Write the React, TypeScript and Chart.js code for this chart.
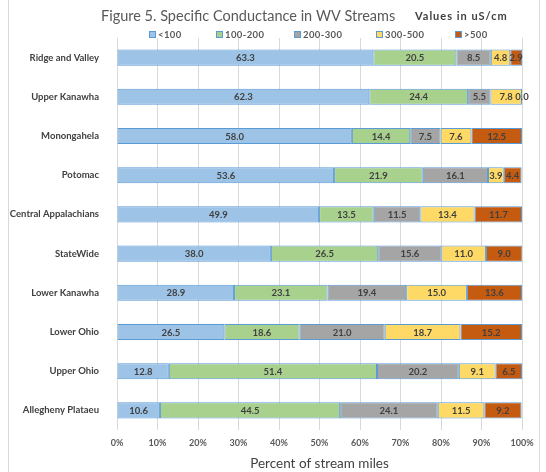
import React, { useEffect, useRef } from "react";
import { Chart, registerables } from "chart.js";

Chart.register(...registerables);

const categories = [
  "Ridge and Valley",
  "Upper Kanawha",
  "Monongahela",
  "Potomac",
  "Central Appalachians",
  "StateWide",
  "Lower Kanawha",
  "Lower Ohio",
  "Upper Ohio",
  "Allegheny Plataeu",
];

const seriesNames = ["<100", "100-200", "200-300", "300-500", ">500"];

const lt100 = [63.3, 62.3, 58.0, 53.6, 49.9, 38.0, 28.9, 26.5, 12.8, 10.6];
const s100to200 = [20.5, 24.4, 14.4, 21.9, 13.5, 26.5, 23.1, 18.6, 51.4, 44.5];
const s200to300 = [8.5, 5.5, 7.5, 16.1, 11.5, 15.6, 19.4, 21.0, 20.2, 24.1];
const s300to500 = [4.8, 7.8, 7.6, 3.9, 13.4, 11.0, 15.0, 18.7, 9.1, 11.5];
const gt500 = [2.9, 0.0, 12.5, 4.4, 11.7, 9.0, 13.6, 15.2, 6.5, 9.2];

const xTicks = [0, 10, 20, 30, 40, 50, 60, 70, 80, 90, 100];

const colors = ["#9DC3E6", "#A9D18E", "#A5A5A5", "#FFD966", "#C55A11"];
const FONT = "Lato, 'Open Sans', sans-serif";

const decorPlugin = {
  id: "decor",
  beforeDraw(chart: any) {
    const ctx = chart.ctx;
    ctx.save();
    ctx.fillStyle = "#ffffff";
    ctx.fillRect(0, 0, chart.width, chart.height);
    ctx.strokeStyle = "#D9D9D9";
    ctx.lineWidth = 1;
    ctx.beginPath();
    ctx.moveTo(8.5, 0);
    ctx.lineTo(8.5, chart.height);
    ctx.moveTo(539.5, 0);
    ctx.lineTo(539.5, chart.height);
    ctx.stroke();
    ctx.restore();
  },
  afterDraw(chart: any) {
    const ctx = chart.ctx;
    ctx.save();
    ctx.textBaseline = "alphabetic";
    // title
    ctx.fillStyle = "#595959";
    ctx.font = `14.5px ${FONT}`;
    ctx.textAlign = "left";
    ctx.fillText("Figure 5. Specific Conductance in WV Streams", 101, 21);
    ctx.fillStyle = "#404040";
    ctx.font = `bold 11px ${FONT}`;
    (ctx as any).letterSpacing = "1px";
    ctx.fillText("Values in uS/cm", 415, 20);
    (ctx as any).letterSpacing = "0px";
    // legend
    const boxX = [149, 216, 294, 376, 455];
    ctx.font = `bold 9.5px ${FONT}`;
    ctx.textBaseline = "middle";
    seriesNames.forEach((name, i) => {
      ctx.fillStyle = colors[i];
      ctx.fillRect(boxX[i] + 0.5, 31.5, 6, 6);
      ctx.strokeStyle = "#5B9BD5";
      ctx.lineWidth = 1;
      ctx.strokeRect(boxX[i] + 0.5, 31.5, 6, 6);
      ctx.fillStyle = "#595959";
      (ctx as any).letterSpacing = "0.4px";
      ctx.fillText(name, boxX[i] + 9, 34.5);
      (ctx as any).letterSpacing = "0px";
    });
    // data labels
    ctx.font = `bold 9.5px ${FONT}`;
    ctx.textAlign = "center";
    chart.data.datasets.forEach((ds: any, di: number) => {
      const meta = chart.getDatasetMeta(di);
      meta.data.forEach((el: any, i: number) => {
        const v = ds.data[i];
        const cx = (el.x + el.base) / 2;
        ctx.fillStyle = "#404040";
        ctx.fillText(v.toFixed(1), cx, el.y + 0.5);
      });
    });
    ctx.restore();
  },
};

export default function App() {
  const ref = useRef<HTMLCanvasElement | null>(null);
  useEffect(() => {
    if (!ref.current) return;
    const data = [lt100, s100to200, s200to300, s300to500, gt500];
    const chart = new Chart(ref.current, {
      type: "bar",
      data: {
        labels: categories,
        datasets: data.map((d, i) => ({
          label: seriesNames[i],
          data: d,
          backgroundColor: colors[i],
          borderColor: "#5B9BD5",
          borderWidth: 1,
          borderSkipped: false,
          barPercentage: 0.41,
          categoryPercentage: 1,
        })),
      },
      options: {
        indexAxis: "y",
        responsive: false,
        animation: false,
        devicePixelRatio: 1,
        layout: { padding: { top: 38, right: 24, left: 0, bottom: 0 } },
        plugins: {
          legend: { display: false },
          title: { display: false },
          tooltip: { enabled: false },
        },
        scales: {
          x: {
            stacked: true,
            min: 0,
            max: 100,
            afterBuildTicks(scale: any) {
              scale.ticks = xTicks.map((v) => ({ value: v }));
            },
            afterFit(scale: any) {
              scale.height = 472 - 38 - 392;
            },
            grid: { color: "#D9D9D9", drawTicks: false },
            border: { display: false },
            ticks: {
              padding: 8,
              color: "#595959",
              font: { family: FONT, size: 9, weight: "bold" },
              callback: (v: any) => v + "%",
            },
            title: {
              display: true,
              text: "Percent of stream miles",
              color: "#404040",
              font: { family: FONT, size: 13.5 },
              padding: { top: 1, bottom: 0 },
            },
          },
          y: {
            stacked: true,
            grid: { display: false },
            border: { display: false },
            afterFit(scale: any) {
              scale.width = 117;
            },
            ticks: {
              padding: 10,
              color: "#404040",
              font: { family: FONT, size: 9.5, weight: "bold" },
            },
          },
        },
      },
      plugins: [decorPlugin],
    });
    return () => chart.destroy();
  }, []);
  return (
    <div style={{ position: "fixed", left: 0, top: 0, width: 546, height: 472 }}>
      <canvas ref={ref} width={546} height={472} style={{ display: "block" }} />
    </div>
  );
}
